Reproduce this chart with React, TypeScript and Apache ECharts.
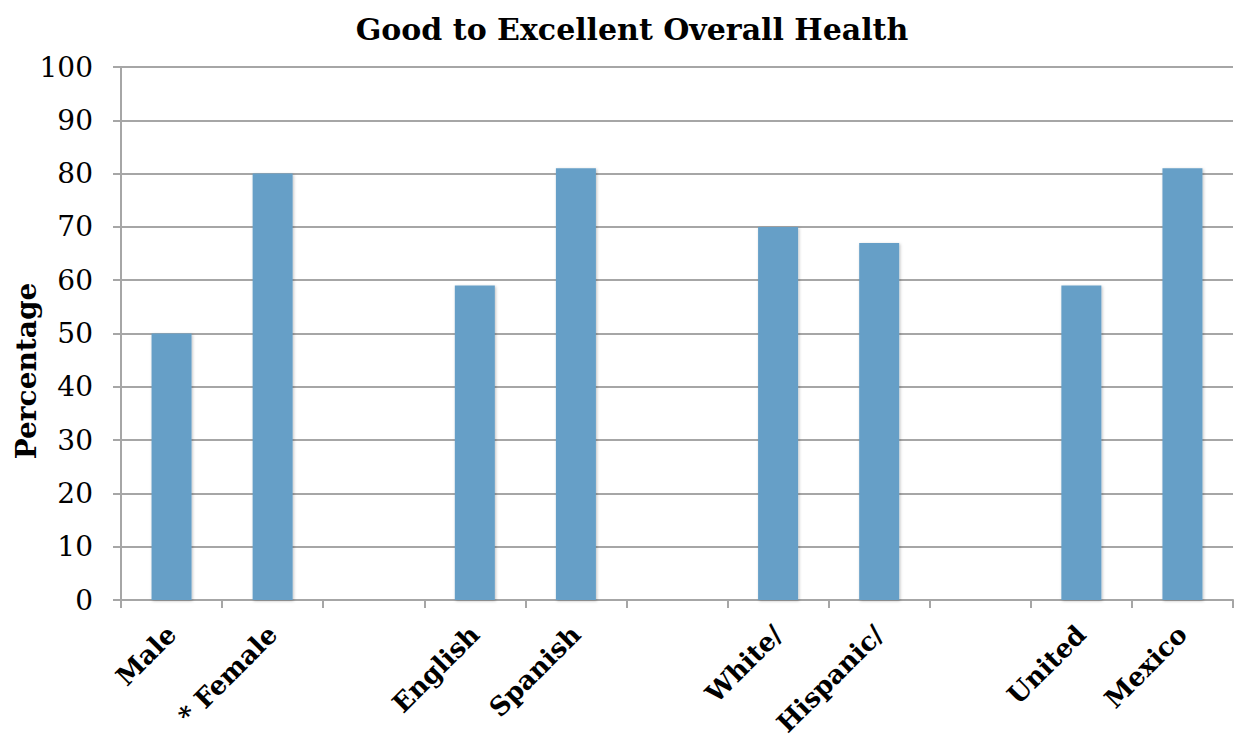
import React, { useEffect, useRef } from "react";
import * as echarts from "echarts";

const categories = ["Male", "* Female", " ", "English", "Spanish", "  ", "White/", "Hispanic/", "   ", "United", "Mexico"];
const values: (number | null)[] = [50, 80, null, 59, 81, null, 70, 67, null, 59, 81];
const yTicks = { min: 0, max: 100, interval: 10 };
const titleText = "Good to Excellent Overall Health";
const yName = "Percentage";

const FONT = "DejaVu Serif";

export default function App() {
  const ref = useRef<HTMLDivElement>(null);
  useEffect(() => {
    if (!ref.current) return;
    const chart = echarts.init(ref.current, undefined, { renderer: "svg" });
    chart.setOption({
      animation: false,
      backgroundColor: "#ffffff",
      title: {
        text: titleText,
        left: 627,
        textAlign: "center",
        top: 9,
        textStyle: { fontFamily: FONT, fontWeight: "bold", fontSize: 30, color: "#000" },
      },
      graphic: [
        {
          type: "text",
          x: 26,
          y: 371,
          rotation: Math.PI / 2,
          style: {
            text: yName,
            fontFamily: FONT,
            fontWeight: "bold",
            fontSize: 28,
            fill: "#000",
            align: "center",
            verticalAlign: "middle",
          },
        },
      ],
      grid: { left: 121, right: 3, top: 67, bottom: 142, containLabel: false, outerBoundsMode: "none" },
      xAxis: {
        type: "category",
        data: categories,
        axisLine: { lineStyle: { color: "#A6A6A6", width: 2 } },
        axisTick: { show: true, length: 8, lineStyle: { color: "#A6A6A6", width: 2 }, alignWithLabel: false },
        axisLabel: {
          interval: 0,
          rotate: 45,
          margin: 30,
          fontFamily: FONT,
          fontWeight: "bold",
          fontSize: 26,
          color: "#000",
        },
      },
      yAxis: {
        type: "value",
        min: yTicks.min,
        max: yTicks.max,
        interval: yTicks.interval,
        axisLine: { show: true, lineStyle: { color: "#A6A6A6", width: 2 } },
        axisTick: { show: true, length: 8, lineStyle: { color: "#A6A6A6", width: 2 } },
        splitLine: { show: true, lineStyle: { color: "#A6A6A6", width: 2 } },
        axisLabel: { fontFamily: FONT, fontSize: 28, color: "#000", margin: 28 },
      },
      series: [
        {
          type: "bar",
          data: values,
          barWidth: 40,
          itemStyle: {
            color: "#669FC7",
            shadowColor: "rgba(0,0,0,0.25)",
            shadowBlur: 3,
            shadowOffsetX: 1,
            shadowOffsetY: 1,
          },
        },
      ],
    });
    return () => chart.dispose();
  }, []);
  return <div ref={ref} style={{ width: 1236, height: 742, position: "absolute", left: 0, top: 0 }} />;
}
